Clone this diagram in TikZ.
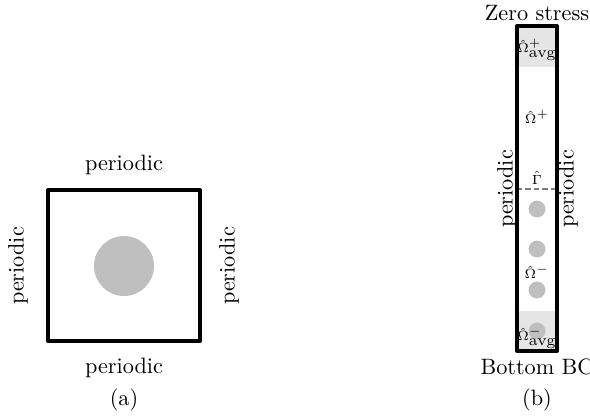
\documentclass[tikz,border=0pt]{standalone}
\usepackage{amsmath}
\usetikzlibrary{positioning}
\definecolor{incgray}{gray}{0.75}
\definecolor{avggray}{gray}{0.9}

\begin{document}
\begin{tikzpicture}[x=0.45pt, y=0.45pt,
    border/.style = {line width=1.8pt, line join=round},
    inclusion/.style = {circle, fill=incgray, inner sep=0pt},
    domlabel/.style = {font=\fontsize{6}{7}\selectfont, inner sep=1pt},
    interface/.style = {gray, line width=0.6pt, dash pattern=on 2.4pt off 1.4pt}]
    \useasboundingbox (0,0) rectangle (590,419);
    \begin{scope}[every node/.style = {font=\normalsize}]
        % (a) periodic unit cell
        \node[inclusion, minimum size=27pt] (inc) at (124,153) {};
        \draw[border] (48,78) rectangle (200,229);
        \node (ptop) at (124,254) {periodic};
        \node (pbot) at (124,51) {periodic};
        \node[rotate=90] (pleft) at (18,153) {periodic};
        \node[rotate=90] (pright) at (229,153) {periodic};
        \node (capa) at (124,19) {(a)};

        % (b) column with averaging layers
        \fill[avggray] (517,352) rectangle (557,393);
        \fill[avggray] (517,68) rectangle (557,108);
        \foreach \y [count=\i] in {210, 170, 129, 88}{
            \node[inclusion, minimum size=7.6pt] (P\i) at (537,\y) {};
        }
        \coordinate (GL) at (517,230);
        \coordinate (GR) at (557,230);
        \draw[interface] (GL) -- (GR);
        \draw[border] (517,68) rectangle (557,393);
        \node[domlabel] (Oavgp) at (537,369) {$\hat{\Omega}^{+}_{\text{\scriptsize avg}}$};
        \node[domlabel] (Op) at (537,302) {$\hat{\Omega}^{+}$};
        \node[domlabel] (G) at (537,241) {$\hat{\Gamma}$};
        \node[domlabel] (Om) at (537,147) {$\hat{\Omega}^{-}$};
        \node[domlabel] (Oavgm) at (537,81) {$\hat{\Omega}^{-}_{\text{\scriptsize avg}}$};
        \node (top) at (537,406) {Zero stress};
        \node (bot) at (537,52) {Bottom BC};
        \node[rotate=90] (bleft) at (507,230) {periodic};
        \node[rotate=90] (bright) at (568,230) {periodic};
        \node (capb) at (537,19) {(b)};
    \end{scope}
\end{tikzpicture}
\end{document}
